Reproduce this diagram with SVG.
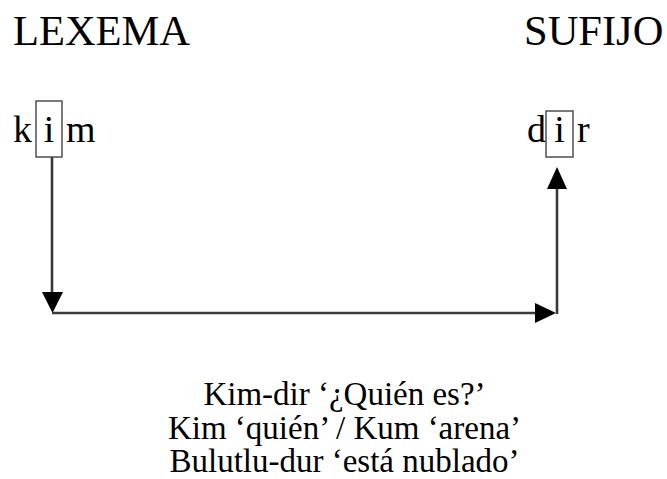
<svg xmlns="http://www.w3.org/2000/svg" width="667" height="479" viewBox="0 0 667 479">
  <style>
    text { font-family: "Liberation Serif", "Times New Roman", serif; fill: #000; }
    .head { font-size: 42.5px; }
    .word { font-size: 38px; }
    .gloss { font-size: 33px; text-anchor: middle; }
    .vbox { fill: none; stroke: #5a5a5a; stroke-width: 1.6; }
    .link { fill: none; stroke: #3a3a3a; stroke-width: 2.6; }
    .head-arrow { fill: #000; }
  </style>

  <rect width="667" height="479" fill="#fff"/>

  <g id="lexema">
    <text class="head" x="13" y="45">LEXEMA</text>
  </g>

  <g id="sufijo">
    <text class="head" x="524" y="45">SUFIJO</text>
  </g>

  <g id="kim">
    <text class="word" x="13" y="142">k</text>
    <rect class="vbox" x="36" y="101" width="26" height="56"/>
    <text class="word" x="49" y="142" text-anchor="middle">i</text>
    <text class="word" x="66" y="142">m</text>
  </g>

  <g id="dir">
    <text class="word" x="527" y="142">d</text>
    <rect class="vbox" x="546" y="111" width="27" height="46"/>
    <text class="word" x="559.5" y="142" text-anchor="middle">i</text>
    <text class="word" x="577" y="142">r</text>
  </g>

  <g id="connectors">
    <!-- down from the vowel of kim, across, and up to the vowel of dir -->
    <path class="link" d="M52 157 V296"/>
    <polygon class="head-arrow" points="42,292 63,292 52.5,313"/>
    <path class="link" d="M52 313 H540"/>
    <polygon class="head-arrow" points="535,303 535,323 556,313"/>
    <path class="link" d="M557 314 V188"/>
    <polygon class="head-arrow" points="547,189 567,189 557,167"/>
  </g>

  <g id="examples">
    <text class="gloss" x="344.5" y="405">Kim-dir ‘¿Quién es?’</text>
    <text class="gloss" x="344.5" y="439">Kim ‘quién’ / Kum ‘arena’</text>
    <text class="gloss" x="344.5" y="472">Bulutlu-dur ‘está nublado’</text>
  </g>
</svg>
